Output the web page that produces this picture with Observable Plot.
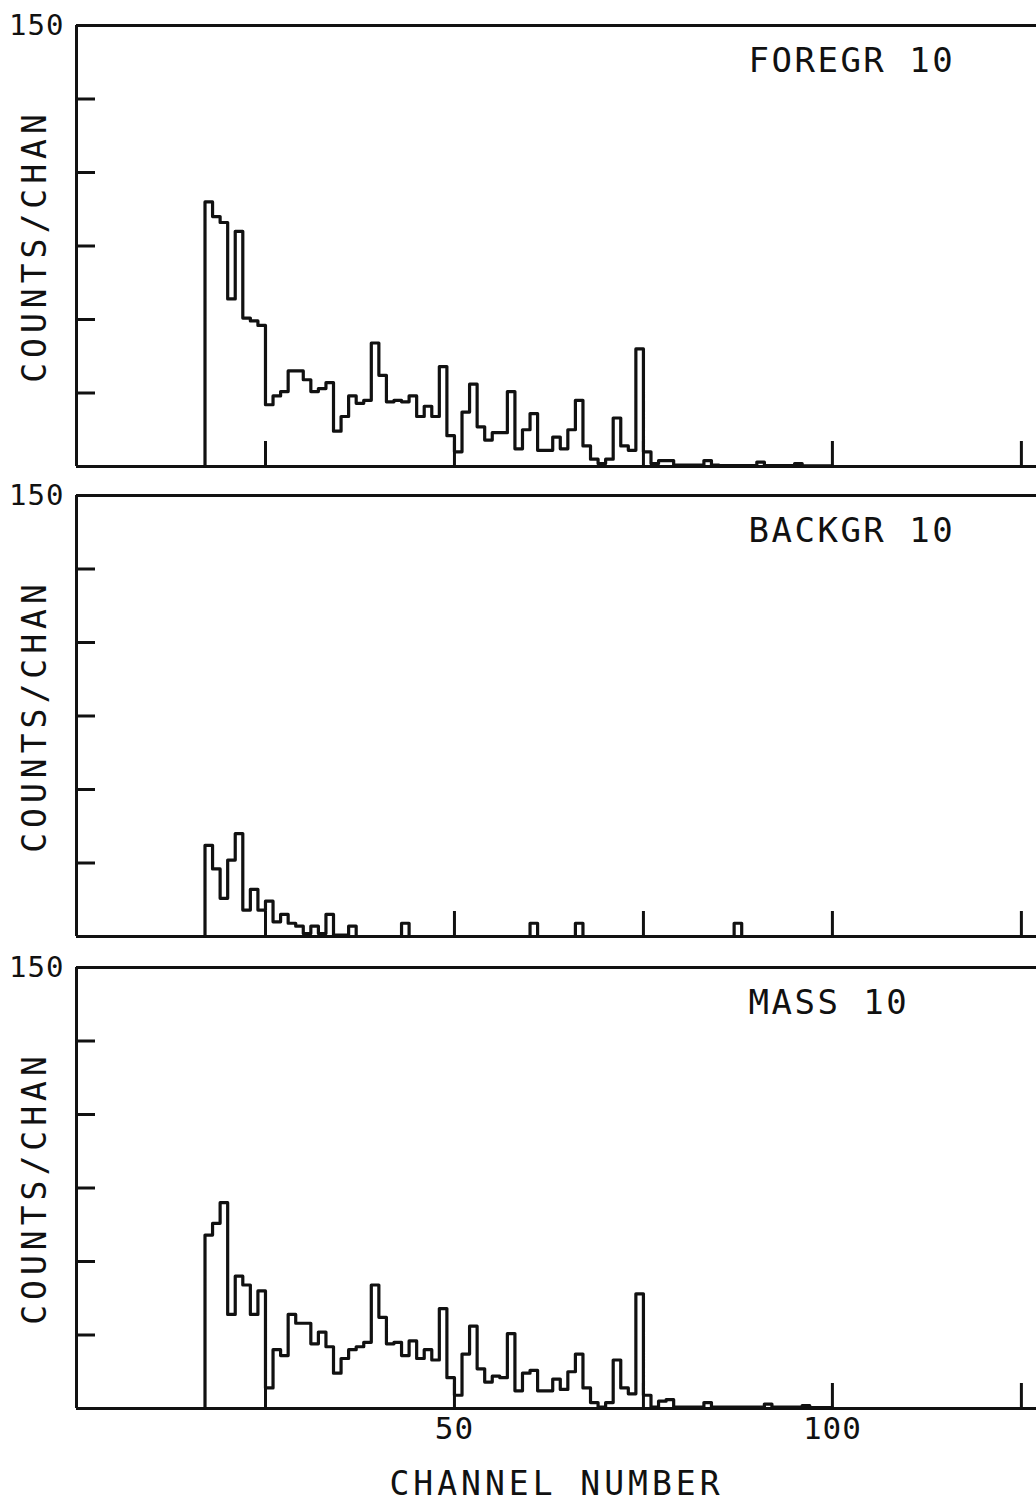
<!DOCTYPE html>
<html>
<head>
<meta charset="utf-8">
<script src="https://cdn.jsdelivr.net/npm/d3@7"></script>
<script src="https://cdn.jsdelivr.net/npm/@observablehq/plot@0.6"></script>
<style>
  html, body { margin: 0; padding: 0; background: #fff; overflow: hidden; }
  #wrap { position: relative; width: 1036px; height: 1502px; }
  #wrap svg { position: absolute; left: 0; }
</style>
</head>
<body>
<div id="wrap"></div>
<script>
// ---- data (counts per channel, starting at channelStart) ----
const channelStart = 17;
const panelLabels = ["FOREGR 10", "BACKGR 10", "MASS 10"];
const foregr = [
  90, 85, 83, 57, 80, 50.5, 49.5, 48,
  21, 24, 25.5, 32.5, 32.5, 29.5, 25.5, 26.5, 28.5, 12,
  17, 24, 21.5, 22.5, 42, 31, 22, 22.5, 22, 24,
  17, 20.5, 17, 34, 10.5, 5, 18.5, 28, 13.5, 9,
  11.5, 11.5, 25.5, 6, 12.5, 18, 5.5, 5.5, 10, 6,
  12.5, 22.5, 7, 2.5, 1, 2.5, 16.5, 7, 5.5, 40,
  5, 1, 2, 2, 0.5, 0.5, 0.5, 0.5, 2, 0.5,
  0.3, 0.3, 0.3, 0.3, 0.3, 1.5, 0.3, 0.3, 0.3, 0.3,
  1, 0.2, 0.2, 0.2, 0.2
];
const backgr = [
  31, 23, 13, 26, 35, 9, 16, 9,
  12, 5, 7.5, 4.5, 3.5, 1, 3.5, 1, 7.5, 0.5,
  0.5, 3.5, 0, 0, 0, 0, 0, 0, 4.5, 0,
  0, 0, 0, 0, 0, 0, 0, 0, 0, 0,
  0, 0, 0, 0, 0, 4.5, 0, 0, 0, 0,
  0, 4.5, 0, 0, 0, 0, 0, 0, 0, 0,
  0, 0, 0, 0, 0, 0, 0, 0, 0, 0,
  0, 0, 4.5, 0, 0, 0, 0, 0, 0, 0,
  0, 0, 0, 0, 0
];
const mass = [
  59, 63, 70, 32, 45, 42, 32, 40,
  7, 20, 18, 32, 29, 29, 22, 26, 21, 12,
  17, 20, 21, 22.5, 42, 31, 22, 22.5, 18, 23,
  17, 20, 16.5, 34, 10.5, 4.5, 18.5, 28, 13.5, 9,
  11, 10.5, 25.5, 6, 12, 13, 6, 6, 10, 6.5,
  12.5, 18.5, 7, 2, 0.5, 2, 16.5, 7, 5, 39,
  4.5, 0.5, 2.5, 3, 0.5, 0.5, 0.5, 0.5, 2, 0.5,
  0.5, 0.5, 0.5, 0.5, 0.5, 0.5, 1.5, 0.5, 0.5, 0.5,
  0.5, 1, 0.3, 0.3, 0.3
];
const yTicks = [25, 50, 75, 100, 125];
const yLabels = [150];
const xTicks = [25, 50, 75, 100, 125];
const xLabels = [50, 100];
const yTitle = "COUNTS/CHAN";
const xTitle = "CHANNEL NUMBER";
const xDomain = [0, 127];
const yDomain = [0, 150];

// ---- drawing ----
const ink = "#111111";
const innerW = 960, innerH = 441;
const FONT = "'DejaVu Sans Mono', 'Liberation Mono', monospace";

function panel(values, label, bottomAxis) {
  const pts = [{x: channelStart, y: 0}]
    .concat(values.map((v, i) => ({x: channelStart + i, y: v})))
    .concat([{x: channelStart + values.length, y: 0}]);
  const marks = [
    Plot.ruleY([yDomain[1]], {stroke: ink, strokeWidth: 3}),
    Plot.ruleY([0], {stroke: ink, strokeWidth: 3}),
    Plot.ruleX([0], {stroke: ink, strokeWidth: 3}),
    Plot.tickY(yTicks, {y: d => d, insetRight: innerW - 19, stroke: ink, strokeWidth: 3}),
    Plot.tickX(xTicks, {x: d => d, insetTop: innerH - 25, stroke: ink, strokeWidth: 3}),
    Plot.line(pts, {x: "x", y: "y", curve: "step-after", stroke: ink, strokeWidth: 3.2, strokeLinejoin: "round"}),
    Plot.text(yLabels, {y: d => d, text: d => String(d), frameAnchor: "left", dx: -12, textAnchor: "end", lineAnchor: "middle", fontSize: 29, fill: ink}),
    Plot.text([label], {text: d => d, frameAnchor: "top-left", dx: 672, dy: 36, textAnchor: "start", lineAnchor: "middle", fontSize: 34, fill: ink}),
    Plot.text([yTitle], {text: d => d, frameAnchor: "left", dx: -41, rotate: -90, textAnchor: "middle", lineAnchor: "middle", fontSize: 33, fill: ink})
  ];
  if (bottomAxis) {
    marks.push(Plot.text(xLabels, {x: d => d, text: d => String(d), frameAnchor: "bottom", dy: 21, lineAnchor: "middle", fontSize: 31, fill: ink}));
    marks.push(Plot.text([xTitle], {text: d => d, frameAnchor: "bottom", dy: 76, lineAnchor: "middle", fontSize: 33, fill: ink}));
  }
  const mb = bottomAxis ? 95 : 19;
  const svg = Plot.plot({
    width: 1036,
    height: 10 + innerH + mb,
    marginTop: 10,
    marginBottom: mb,
    marginLeft: 76,
    marginRight: 0,
    x: {domain: xDomain, axis: null},
    y: {domain: yDomain, axis: null},
    style: {fontFamily: FONT, background: "transparent", color: ink, overflow: "visible"},
    marks
  });
  d3.select(svg).selectAll("text").each(function() {
    const t = this.textContent;
    if (t === yTitle) this.setAttribute("letter-spacing", "5");
    else if (t === xTitle) this.setAttribute("letter-spacing", "4");
    else if (panelLabels.includes(t)) this.setAttribute("letter-spacing", "2.5");
    else this.setAttribute("letter-spacing", "1");
  });
  return svg;
}

const wrap = document.getElementById("wrap");
const tops = [15, 485, 957];
[[foregr, panelLabels[0], false], [backgr, panelLabels[1], false], [mass, panelLabels[2], true]]
  .forEach(([vals, lab, ax], i) => {
    const svg = panel(vals, lab, ax);
    svg.style.top = tops[i] + "px";
    wrap.appendChild(svg);
  });
</script>
</body>
</html>
